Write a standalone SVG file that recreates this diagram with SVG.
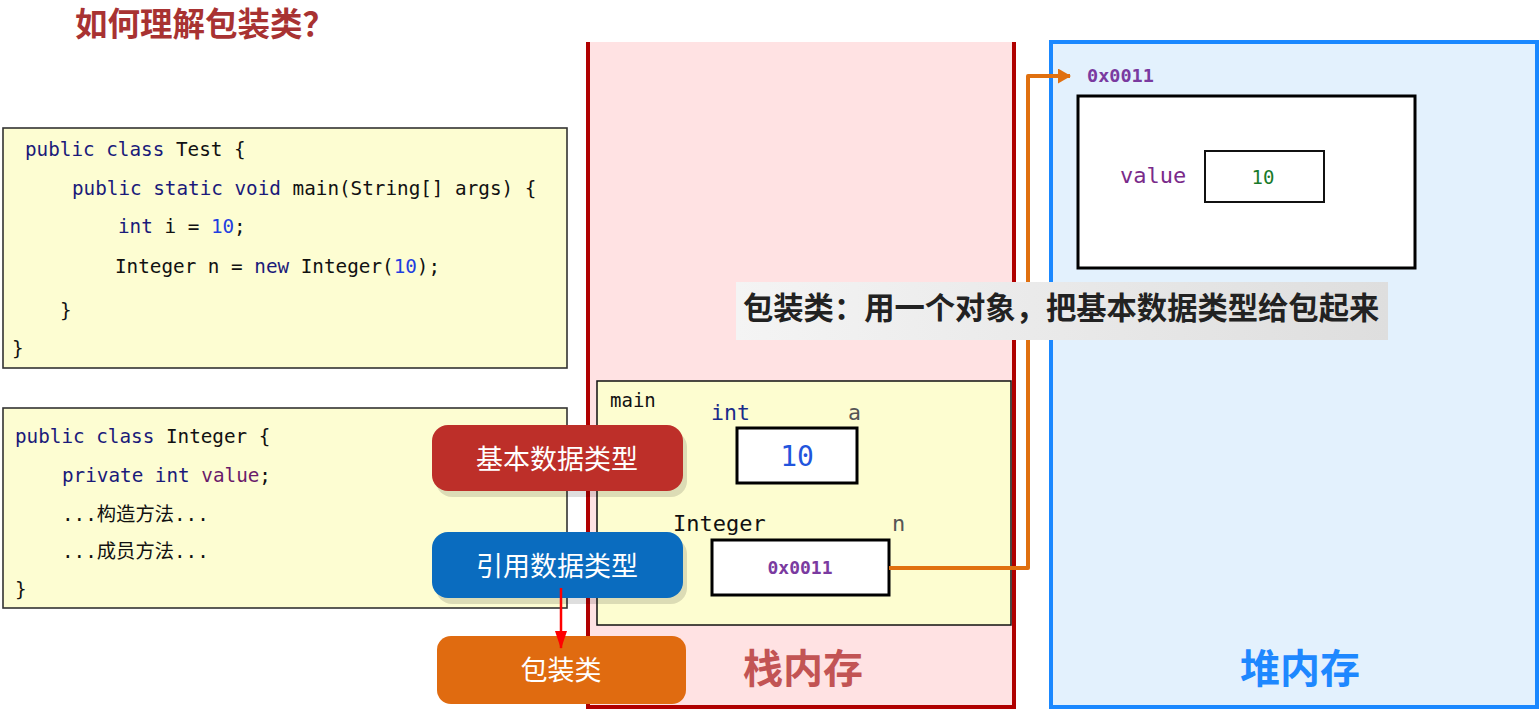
<svg xmlns="http://www.w3.org/2000/svg" width="1540" height="712" viewBox="0 0 1540 712">
<style>
.mono{font-family:"DejaVu Sans Mono","Liberation Mono","Noto Sans CJK SC",monospace;}
.cjk{font-family:"Noto Sans CJK SC","Noto Sans",sans-serif;}
.code{font-size:19.3px;fill:#111;}
.kw{fill:#1a1a7a;}
.num{fill:#1f3fe0;}
.fld{fill:#6a1a6a;}
.codebox{fill:#fdfdd2;stroke:#333;stroke-width:1.6;}
.cell{fill:#fff;stroke:#000;stroke-width:3;}
.btntxt{font-size:27px;fill:#fff;text-anchor:middle;}
.shadow{fill:#000;opacity:0.13;}
</style>
<defs>
<marker id="arrOrange" viewBox="0 0 13 15" refX="12" refY="7.5" markerWidth="13" markerHeight="15" orient="auto" markerUnits="userSpaceOnUse">
<path d="M0,0 L13,7.5 L0,15 z" fill="#e07010"/>
</marker>
<marker id="arrRed" viewBox="0 0 18 12" refX="17" refY="6" markerWidth="18" markerHeight="12" orient="auto" markerUnits="userSpaceOnUse">
<path d="M0,0 L18,6 L0,12 z" fill="#ff0000"/>
</marker>
<linearGradient id="capGrad" x1="0" y1="0" x2="1" y2="0">
<stop offset="0" stop-color="#f4f4f4"/>
<stop offset="1" stop-color="#dedede"/>
</linearGradient>
</defs>

<rect width="1540" height="712" fill="#fff"/>

<g id="title">
<text x="75" y="36" class="cjk" font-size="32.5" font-weight="bold" fill="#a83232">如何理解包装类？</text>
</g>

<g id="code-test">
<rect x="3" y="128" width="564" height="240" class="codebox"/>
<text class="mono code" x="25" y="156"><tspan class="kw">public class</tspan> Test {</text>
<text class="mono code" x="72" y="195"><tspan class="kw">public static void</tspan> main(String[] args) {</text>
<text class="mono code" x="118" y="233"><tspan class="kw">int</tspan> i = <tspan class="num">10</tspan>;</text>
<text class="mono code" x="115" y="273">Integer n = <tspan class="kw">new</tspan> Integer(<tspan class="num">10</tspan>);</text>
<text class="mono code" x="60" y="317">}</text>
<text class="mono code" x="12" y="355">}</text>
</g>

<g id="code-integer">
<rect x="3" y="408" width="564" height="200" class="codebox"/>
<text class="mono code" x="15" y="443"><tspan class="kw">public class</tspan> Integer {</text>
<text class="mono code" x="62" y="482"><tspan class="kw">private int</tspan> <tspan class="fld">value</tspan>;</text>
<text class="mono code" x="62" y="521">...构造方法...</text>
<text class="mono code" x="62" y="558">...成员方法...</text>
<text class="mono code" x="15" y="596">}</text>
</g>

<g id="stack">
<rect x="588" y="42" width="426" height="665" fill="#ffe2e3"/>
<path d="M588,42 V707 H1014 V42" fill="none" stroke="#b00000" stroke-width="4"/>
<text x="743" y="683" class="cjk" font-size="40" font-weight="bold" fill="#c25454">栈内存</text>
</g>

<g id="main-frame">
<rect x="597" y="381" width="414" height="244" fill="#fdfdd0" stroke="#111" stroke-width="1.5"/>
<text x="610" y="407" class="mono" font-size="19" fill="#111">main</text>
<text x="711" y="420" class="mono" font-size="21.5" fill="#1a2a8a">int</text>
<text x="848" y="420" class="mono" font-size="21.5" fill="#555">a</text>
<rect x="737" y="428" width="120" height="55" class="cell"/>
<text x="797" y="466" class="mono" font-size="28" fill="#2255dd" text-anchor="middle">10</text>
<text x="673" y="531" class="mono" font-size="22" fill="#111">Integer</text>
<text x="892" y="531" class="mono" font-size="22" fill="#555">n</text>
<rect x="712" y="540" width="177" height="55" class="cell"/>
<text x="800" y="574" class="mono" font-size="18" font-weight="bold" fill="#7a3aa0" text-anchor="middle">0x0011</text>
</g>

<g id="heap">
<rect x="1051" y="42" width="486" height="665" fill="#e3f1fd" stroke="#1a88ff" stroke-width="4"/>
<text x="1087" y="82" class="mono" font-size="18.5" font-weight="bold" fill="#7a3aa0">0x0011</text>
<text x="1240" y="683" class="cjk" font-size="40" font-weight="bold" fill="#1e88ff">堆内存</text>
</g>

<g id="heap-object">
<rect x="1078" y="96" width="337" height="172" class="cell"/>
<text x="1120" y="183" class="mono" font-size="22" fill="#7a2a8a">value</text>
<rect x="1205" y="151" width="119" height="51" fill="#fff" stroke="#111" stroke-width="2"/>
<text x="1263" y="184" class="mono" font-size="19" fill="#1a7a2a" text-anchor="middle">10</text>
</g>

<g id="connectors">
<path d="M889,568 H1028 V76 H1070" fill="none" stroke="#e07010" stroke-width="4" stroke-linejoin="round" marker-end="url(#arrOrange)"/>
</g>

<g id="caption">
<rect x="736" y="282" width="652" height="58" fill="url(#capGrad)"/>
<text x="743" y="319" class="cjk" font-size="30.3" font-weight="bold" fill="#222">包装类：用一个对象，把基本数据类型给包起来</text>
</g>

<g id="btn-primitive">
<rect x="436" y="431" width="251" height="66" rx="16" class="shadow"/>
<rect x="432" y="425" width="251" height="66" rx="16" fill="#bd2f29"/>
<text x="557" y="469" class="cjk btntxt">基本数据类型</text>
</g>

<g id="btn-reference">
<rect x="436" y="538" width="251" height="66" rx="16" class="shadow"/>
<rect x="432" y="532" width="251" height="66" rx="16" fill="#0a6cbf"/>
<text x="557" y="576" class="cjk btntxt">引用数据类型</text>
</g>

<g id="btn-wrapper">
<rect x="437" y="636" width="249" height="68" rx="14" fill="#e06b10"/>
<text x="561" y="680" class="cjk btntxt">包装类</text>
</g>

<g id="connector-red">
<line x1="561" y1="588" x2="561" y2="648" stroke="#ff0000" stroke-width="2.5" marker-end="url(#arrRed)"/>
</g>
</svg>
